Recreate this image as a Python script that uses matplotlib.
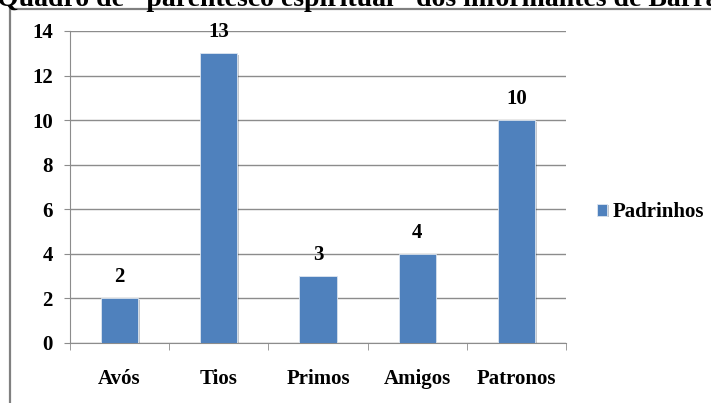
import matplotlib.pyplot as plt
import matplotlib.patheffects as pe
from matplotlib.patches import Rectangle

categorias = ["Avós", "Tios", "Primos", "Amigos", "Patronos"]
padrinhos = [2, 13, 3, 4, 10]
yticks = [0, 2, 4, 6, 8, 10, 12, 14]

plt.rcParams["font.family"] = ["Liberation Serif", "DejaVu Serif"]
plt.rcParams["font.weight"] = "bold"

fig = plt.figure(figsize=(7.11, 4.03), dpi=100)

# moldura do gráfico
fig.patches.append(Rectangle((10 / 711, -0.1), 1.2, 1 - 9 / 403 + 0.1,
                             transform=fig.transFigure, fill=False,
                             edgecolor="#808080", linewidth=1.6))

fig.text(-0.004, 1 - 6 / 403,
         'Quadro de "parentesco espiritual" dos informantes de Barrancas',
         fontsize=20, fontweight="bold", va="baseline", ha="left")

ax = fig.add_axes([70 / 711, 1 - 343 / 403, 496 / 711, 312 / 403])

x = range(len(categorias))
bars = ax.bar(x, padrinhos, width=0.375, color="#4F81BD", edgecolor="#DDE6F1",
              linewidth=0.6, label="Padrinhos", zorder=3)
for b in bars:
    b.set_path_effects([pe.SimplePatchShadow(offset=(1.2, -1.2), alpha=0.25), pe.Normal()])

for xi, v in zip(x, padrinhos):
    ax.text(xi, v + 0.95, str(v), ha="center", va="center", fontsize=15, fontweight="bold")

ax.set_xlim(-0.5, len(categorias) - 0.5)
ax.set_ylim(0, 14)
ax.set_yticks(yticks)
ax.set_xticks(x)
ax.set_xticklabels(categorias)
ax.set_xticks([i - 0.5 for i in range(len(categorias) + 1)], minor=True)

ax.grid(axis="y", color="#8C8C8C", linewidth=1, zorder=0)
for s in ["top", "right"]:
    ax.spines[s].set_visible(False)
ax.spines["left"].set_color("#8C8C8C")
ax.spines["bottom"].set_color("#8C8C8C")

ax.tick_params(axis="y", length=4.5, color="#8C8C8C", labelsize=15, pad=8)
ax.tick_params(axis="x", which="major", length=0, labelsize=15, pad=19)
ax.tick_params(axis="x", which="minor", length=5, color="#8C8C8C")

ax.legend(loc="center left", bbox_to_anchor=(1.024, 0.42), frameon=False,
          handlelength=0.5, handleheight=0.5, handletextpad=0.25,
          prop={"size": 15, "weight": "bold"})

fig.savefig("out.png", dpi=100)
